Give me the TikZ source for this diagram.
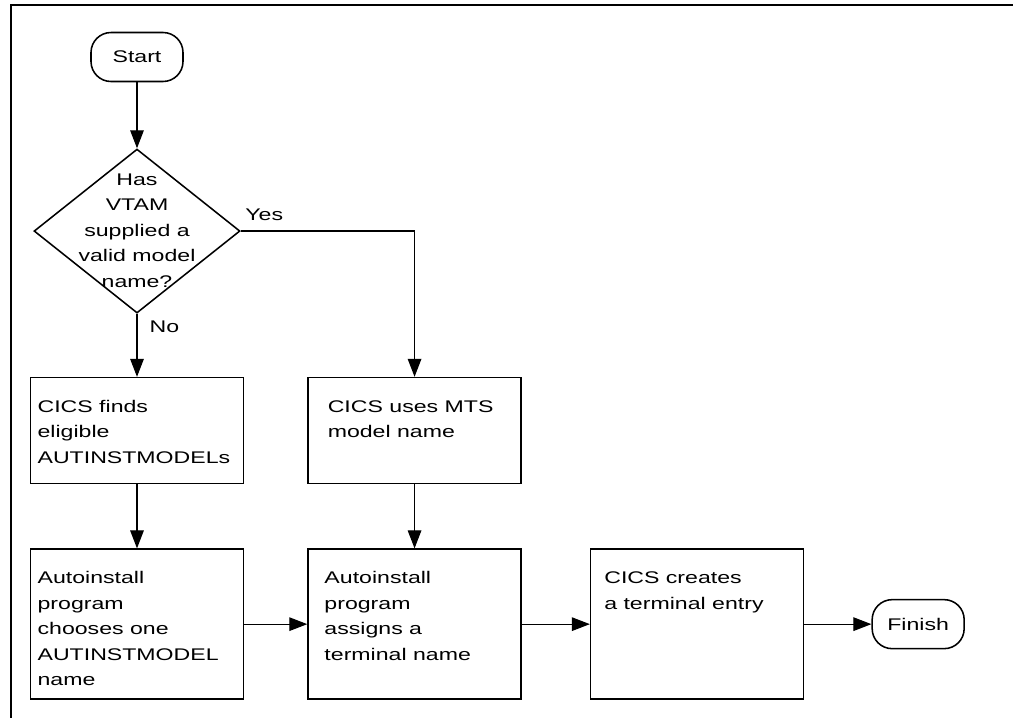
\documentclass[tikz,border=0pt]{standalone}
\usepackage{graphicx}
\usepackage{fontspec}
\setmainfont{Liberation Sans}
\usetikzlibrary{shapes.geometric,arrows.meta,positioning}
% the labels are set wide, as in the original chart
\newcommand{\wide}[1]{\scalebox{1.37}[1]{\fontsize{12pt}{18.1pt}\selectfont #1}}
\newcommand{\boxlines}[3]{%
    \wide{\begin{minipage}[c][#2][t]{3.887cm}
    \raggedright\leftskip=#1\relax
    \rule{0pt}{0.87cm}#3
    \end{minipage}}}
\tikzset{
    procbox/.style={
        rectangle,
        draw=black,
        line width=1.1pt,
        inner sep=0pt,
        minimum width=5.325cm
    },
    termbox/.style={
        rectangle,
        rounded corners=0.5cm,
        draw=black,
        line width=1.1pt,
        inner sep=0pt,
        minimum width=2.3cm,
        minimum height=1.225cm
    },
    decisionbox/.style={
        diamond,
        draw=black,
        line width=1.1pt,
        inner sep=0pt,
        minimum width=5.15cm,
        minimum height=4.1cm
    },
    flowline/.style={
        -{Triangle[length=0.45cm,width=0.34cm]},
        line width=0.8pt
    }
}

\begin{document}
\begin{tikzpicture}
\useasboundingbox (0,0) rectangle (25.325,-17.95);
% open frame
\draw[line width=1.3pt] (25.325,-0.125) -- (0.275,-0.125) -- (0.275,-17.95);

% Start and the VTAM test
\node[termbox] (start) at (3.425,-1.425) {\wide{Start}};
\node[decisionbox, below=1.65cm of start,
      label={center:\wide{\begin{tabular}{@{}c@{}}Has\\VTAM\\supplied a\\valid model\\name?\end{tabular}}}] (vtamcheck) {};

% left branch
\node[procbox, below=1.575cm of vtamcheck] (finds) {\boxlines{0.13cm}{2.65cm}{CICS finds\\eligible\\AUTINSTMODELs}};
\node[procbox, below=1.6cm of finds] (chooses) {\boxlines{0.13cm}{3.75cm}{Autoinstall\\program\\chooses one\\AUTINSTMODEL\\name}};

% right branch and the last steps
\node[procbox, right=1.575cm of chooses] (assigns) {\boxlines{0.3cm}{3.75cm}{Autoinstall\\program\\assigns a\\terminal name}};
\node[procbox, above=1.6cm of assigns] (usesmts) {\boxlines{0.36cm}{2.65cm}{CICS uses MTS\\model name}};
\node[procbox, right=1.7cm of assigns] (creates) {\boxlines{0.25cm}{3.75cm}{CICS creates\\a terminal entry}};
\node[termbox, right=1.675cm of creates] (finish) {\wide{Finish}};

\draw[flowline] (start) -- (vtamcheck);
\draw[flowline] (vtamcheck) -- node[pos=0, anchor=north west, inner xsep=0.3cm, inner ysep=0.15cm] {\wide{No}} (finds);
\draw[flowline] (vtamcheck.east) -| node[pos=0, anchor=south west, inner xsep=0.1cm, inner ysep=0.25cm] {\wide{Yes}} (usesmts);
\draw[flowline] (finds) -- (chooses);
\draw[flowline] (usesmts) -- (assigns);
\draw[flowline] (chooses) -- (assigns);
\draw[flowline] (assigns) -- (creates);
\draw[flowline] (creates) -- (finish);
\end{tikzpicture}
\end{document}
